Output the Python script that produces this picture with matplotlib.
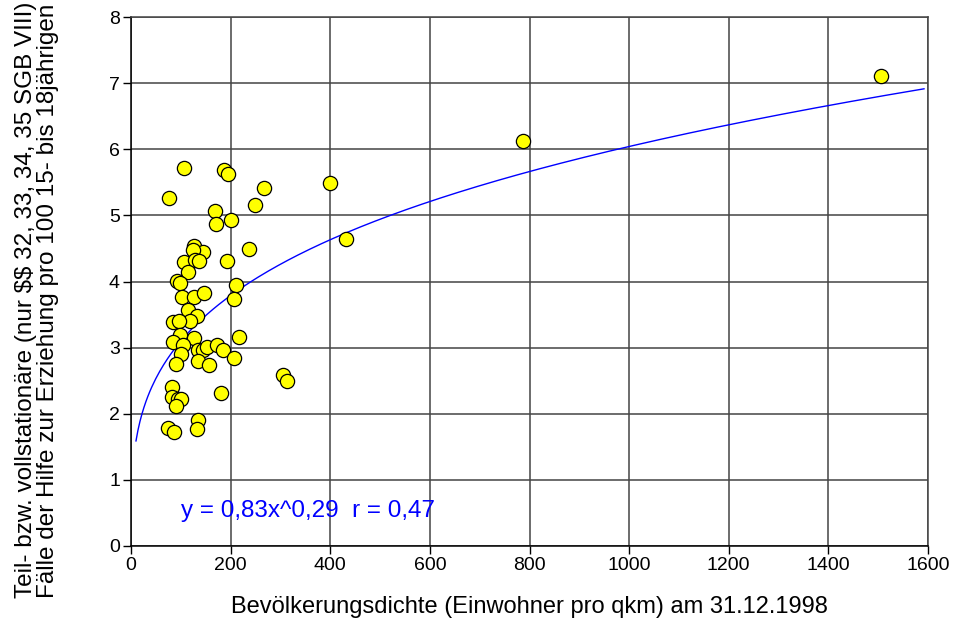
# Hilfe zur Erziehung vs. Bevölkerungsdichte, Potenz-Trendlinie

import matplotlib.pyplot as plt
import numpy as np

plt.rcParams['font.family'] = ['Liberation Sans', 'DejaVu Sans']

dichte = [107, 187, 195, 267, 76, 248, 169, 170, 201, 127,
          236, 144, 124, 106, 128, 136, 193, 115, 92, 98,
          211, 103, 127, 146, 206, 115, 132, 118, 85, 97,
          217, 98, 127, 85, 105, 100, 90, 135, 145, 153,
          173, 184, 135, 157, 207, 83, 83, 95, 100, 90,
          181, 74, 87, 135, 132, 306, 314, 400, 432, 787,
          1506]
faelle = [5.72, 5.69, 5.63, 5.42, 5.27, 5.15, 5.07, 4.87, 4.93, 4.54,
          4.49, 4.45, 4.48, 4.30, 4.33, 4.31, 4.31, 4.14, 4.01, 3.97,
          3.94, 3.76, 3.77, 3.82, 3.74, 3.57, 3.48, 3.41, 3.38, 3.41,
          3.16, 3.19, 3.15, 3.08, 3.04, 2.91, 2.75, 2.96, 2.96, 3.01,
          3.04, 2.96, 2.80, 2.74, 2.84, 2.41, 2.26, 2.23, 2.23, 2.12,
          2.31, 1.79, 1.73, 1.91, 1.77, 2.58, 2.49, 5.49, 4.64, 6.12,
          7.11]

# trendline y = a * x^b (as drawn in the original)
trend_a = 0.815
trend_b = 0.29
trend_x = np.linspace(10, 1592, 400)

fig = plt.figure(figsize=(9.61, 6.23), dpi=100)
ax = fig.add_axes([131 / 961, 1 - 546 / 623, (928 - 131) / 961, (546 - 17) / 623])

ax.set_xlim(0, 1600)
ax.set_ylim(0, 8)
ax.set_xticks(range(0, 1601, 200))
ax.set_yticks(range(0, 9))

ax.grid(True, color='#444444', linewidth=1.1)
ax.set_axisbelow(True)
for side in ['top', 'right']:
    ax.spines[side].set_color('#444444')
    ax.spines[side].set_linewidth(1.1)
for side in ['left', 'bottom']:
    ax.spines[side].set_color('black')
    ax.spines[side].set_linewidth(1.1)

ax.tick_params(direction='out', length=6, width=1, labelsize=14, pad=2)

ax.plot(trend_x, trend_a * trend_x ** trend_b, color='blue', linewidth=1, zorder=2)
ax.scatter(dichte, faelle, s=105, color='#ffff00', edgecolor='black', linewidth=0.9, zorder=3)

ax.text(100, 0.53, 'y = 0,83x^0,29  r = 0,47', color='blue', fontsize=17.5, va='center', ha='left')

ax.set_xlabel('Bevölkerungsdichte (Einwohner pro qkm) am 31.12.1998', fontsize=17, labelpad=16)

# y label runs past the top edge, as in the original
fig.text(26 / 961, 25 / 623, r'Teil- bzw. vollstationäre (nur \$\$ 32, 33, 34, 35 SGB VIII)',
         rotation=90, ha='center', va='bottom', fontsize=17.5)
fig.text(48 / 961, 25 / 623, 'Fälle der Hilfe zur Erziehung pro 100 15- bis 18jährigen',
         rotation=90, ha='center', va='bottom', fontsize=17.5)

fig.savefig('out.png', dpi=100)
